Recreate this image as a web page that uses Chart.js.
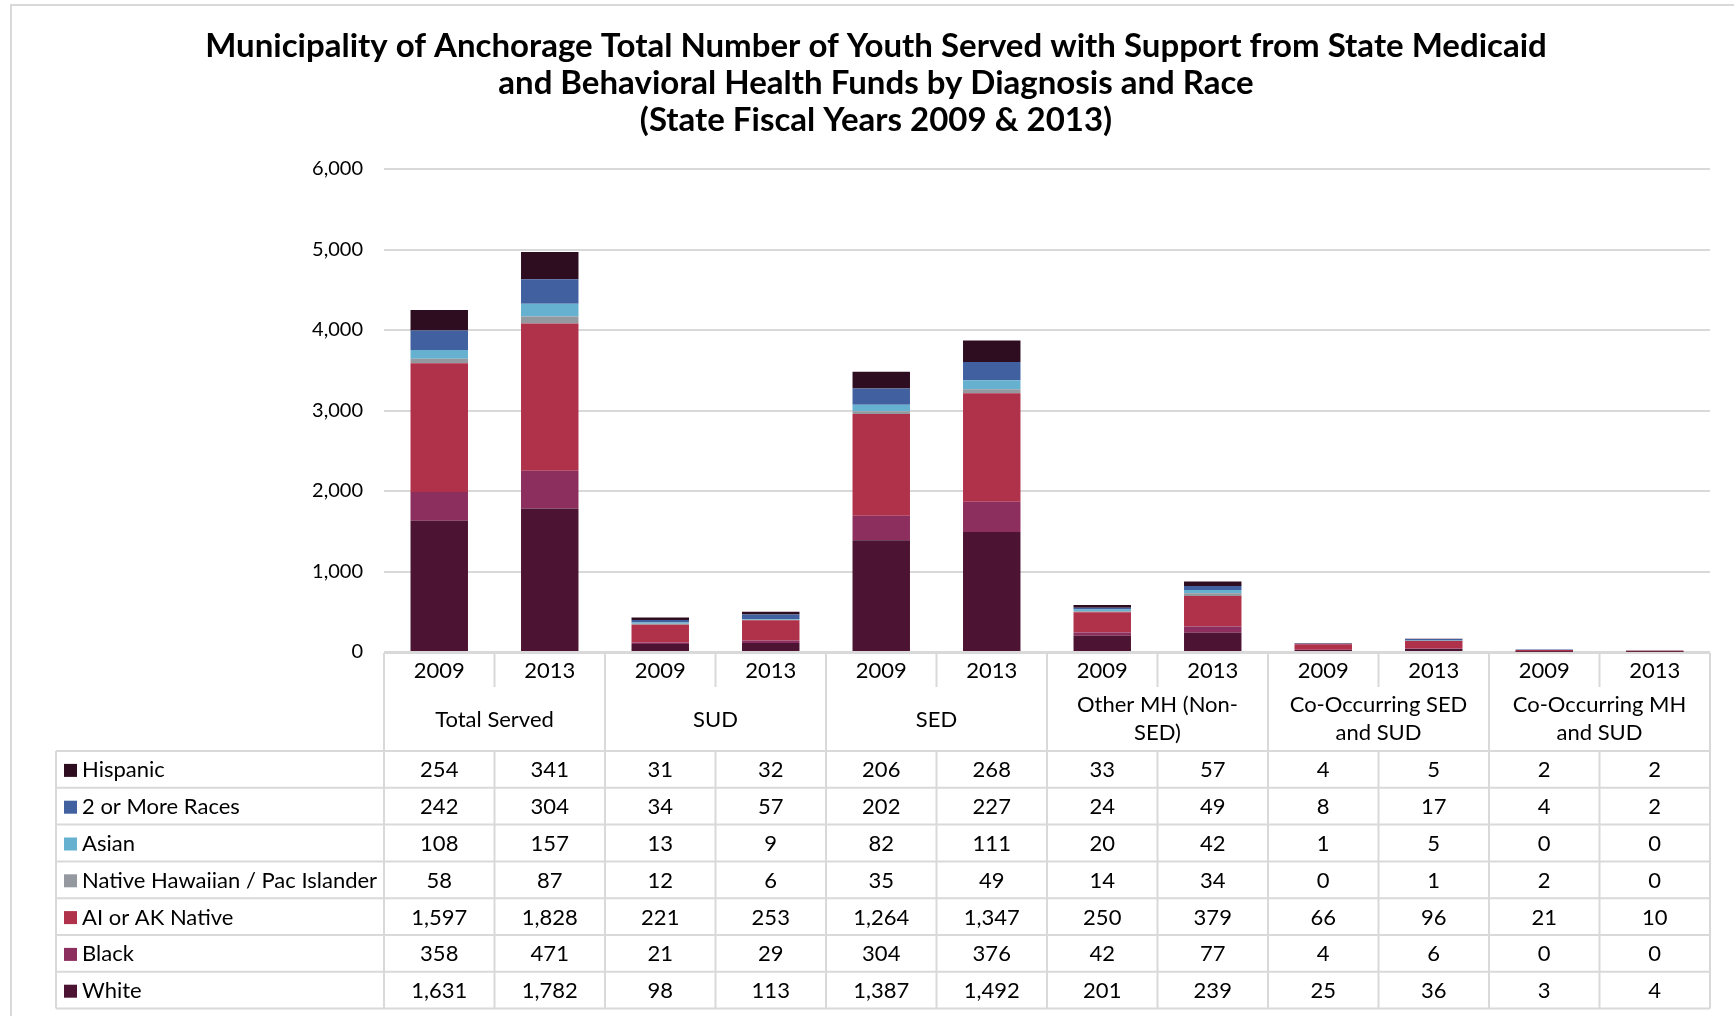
<!DOCTYPE html>
<html>
<head>
<meta charset="utf-8">
<script src="https://cdn.jsdelivr.net/npm/chart.js@4.4.1/dist/chart.umd.min.js"></script>
<style>
  html, body { margin: 0; padding: 0; background: #fff; }
  #wrap { width: 1734px; height: 1016px; position: relative; }
</style>
</head>
<body>
<div id="wrap"><canvas id="youthChart" width="1734" height="1016"></canvas></div>
<script>
// ============================================
// Youth served by diagnosis and race, SFY 2009 & 2013
// ============================================

const FONT = 'Lato, "Open Sans", sans-serif';

const titleLines = [
  'Municipality of Anchorage Total Number of Youth Served with Support from State Medicaid',
  'and Behavioral Health Funds by Diagnosis and Race',
  '(State Fiscal Years 2009 & 2013)',
];

const years = ['2009', '2013', '2009', '2013', '2009', '2013', '2009', '2013', '2009', '2013', '2009', '2013'];
const groups = [
  ['Total Served'],
  ['SUD'],
  ['SED'],
  ['Other MH (Non-', 'SED)'],
  ['Co-Occurring SED', 'and SUD'],
  ['Co-Occurring MH', 'and SUD'],
];

// series, top-to-bottom as in the data table
const hispanic   = [254, 341, 31, 32, 206, 268, 33, 57, 4, 5, 2, 2];
const twoOrMore  = [242, 304, 34, 57, 202, 227, 24, 49, 8, 17, 4, 2];
const asian      = [108, 157, 13, 9, 82, 111, 20, 42, 1, 5, 0, 0];
const pacIsl     = [58, 87, 12, 6, 35, 49, 14, 34, 0, 1, 2, 0];
const aiakNative = [1597, 1828, 221, 253, 1264, 1347, 250, 379, 66, 96, 21, 10];
const black      = [358, 471, 21, 29, 304, 376, 42, 77, 4, 6, 0, 0];
const white      = [1631, 1782, 98, 113, 1387, 1492, 201, 239, 25, 36, 3, 4];

const seriesNames = ['Hispanic', '2 or More Races', 'Asian', 'Native Hawaiian / Pac Islander', 'AI or AK Native', 'Black', 'White'];
const seriesData = [hispanic, twoOrMore, asian, pacIsl, aiakNative, black, white];
const seriesColors = ['#2f0d20', '#41609f', '#65b1cf', '#9499a0', '#b0314a', '#8c2f5e', '#4c1432'];

const yTicks = [0, 1000, 2000, 3000, 4000, 5000, 6000];

const fmt = v => v.toLocaleString('en-US');

// Stack bottom-up: White first, Hispanic on top (dataset index decides)
const datasets = seriesNames.map((name, i) => ({
  label: name,
  data: seriesData[i],
  backgroundColor: seriesColors[i],
  borderWidth: 0,
  barPercentage: 0.52,
  categoryPercentage: 1.0,
})).reverse();

const GRID = '#d9d9d9';

// Title, outer frame and the data table under the plot
const tablePlugin = {
  id: 'dataTable',
  beforeDraw(chart) {
    const ctx = chart.ctx;
    ctx.save();
    ctx.strokeStyle = GRID;
    ctx.lineWidth = 2;
    ctx.beginPath();
    ctx.moveTo(11, chart.height);
    ctx.lineTo(11, 5);
    ctx.lineTo(chart.width, 5);
    ctx.stroke();
    ctx.restore();
  },
  afterDraw(chart) {
    const ctx = chart.ctx;
    const x = chart.scales.x;
    const area = chart.chartArea;
    const colW = (area.right - area.left) / years.length;
    const top = area.bottom + 1;
    const headBottom = 751;
    const rowH = 36.8;
    const legendLeft = 56;
    const tableBottom = headBottom + rowH * seriesNames.length;

    ctx.save();

    // title
    ctx.fillStyle = '#000';
    ctx.textAlign = 'center';
    ctx.textBaseline = 'middle';
    ctx.font = `bold 33px ${FONT}`;
    titleLines.forEach((t, i) => ctx.fillText(t, 876, 46 + i * 37));

    // grid lines
    ctx.strokeStyle = GRID;
    ctx.lineWidth = 2;
    ctx.beginPath();
    // header box
    ctx.moveTo(area.left, top); ctx.lineTo(area.right, top);
    for (let c = 0; c <= years.length; c++) {
      const lx = area.left + c * colW;
      if (c % 2 === 0) {
        ctx.moveTo(lx, top); ctx.lineTo(lx, tableBottom);
      } else {
        ctx.moveTo(lx, top); ctx.lineTo(lx, 687);
        ctx.moveTo(lx, headBottom); ctx.lineTo(lx, tableBottom);
      }
    }
    // rows
    for (let r = 0; r <= seriesNames.length; r++) {
      const ly = headBottom + r * rowH;
      ctx.moveTo(legendLeft, ly); ctx.lineTo(area.right, ly);
    }
    ctx.moveTo(legendLeft, headBottom); ctx.lineTo(legendLeft, tableBottom);
    ctx.stroke();

    // header labels
    ctx.fillStyle = '#000';
    ctx.font = `22px ${FONT}`;
    years.forEach((y, i) => ctx.fillText(y, x.getPixelForValue(i), 671));
    groups.forEach((g, gi) => {
      const cx = (x.getPixelForValue(gi * 2) + x.getPixelForValue(gi * 2 + 1)) / 2;
      if (g.length === 1) {
        ctx.fillText(g[0], cx, 720);
      } else {
        ctx.fillText(g[0], cx, 705);
        ctx.fillText(g[1], cx, 733);
      }
    });

    // rows: legend key + values
    seriesNames.forEach((name, r) => {
      const cy = headBottom + r * rowH + rowH / 2 + 1;
      ctx.fillStyle = seriesColors[r];
      ctx.fillRect(64, cy - 6.5, 13, 13);
      ctx.fillStyle = '#000';
      ctx.textAlign = 'left';
      ctx.fillText(name, 82, cy);
      ctx.textAlign = 'center';
      seriesData[r].forEach((v, i) => ctx.fillText(fmt(v), x.getPixelForValue(i), cy));
    });

    ctx.restore();
  },
};

new Chart(document.getElementById('youthChart').getContext('2d'), {
  type: 'bar',
  data: { labels: years, datasets },
  options: {
    responsive: false,
    animation: false,
    layout: { padding: { top: 169, bottom: 364, left: 0, right: 24 } },
    plugins: {
      legend: { display: false },
      title: { display: false },
      tooltip: { enabled: true },
    },
    scales: {
      x: {
        stacked: true,
        display: false,
      },
      y: {
        stacked: true,
        min: 0,
        max: 6000,
        afterFit(scale) { scale.width = 384; },
        afterBuildTicks(scale) { scale.ticks = yTicks.map(v => ({ value: v })); },
        border: { display: false },
        grid: { color: GRID, lineWidth: 2, drawTicks: false },
        ticks: {
          padding: 21,
          color: '#000',
          font: { family: FONT, size: 20 },
          callback: v => fmt(v),
        },
      },
    },
  },
  plugins: [tablePlugin],
});
</script>
</body>
</html>
